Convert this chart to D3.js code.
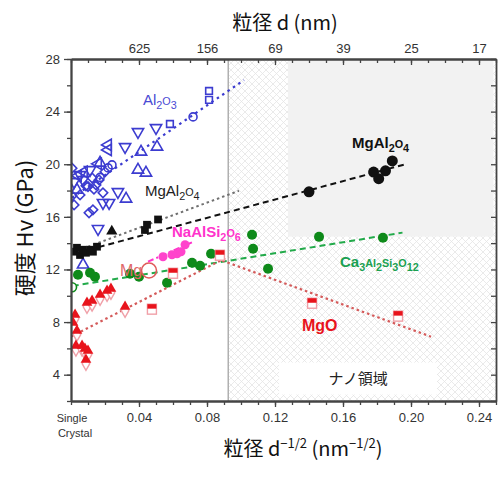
<!DOCTYPE html>
<html><head><meta charset="utf-8">
<script src="https://cdn.jsdelivr.net/npm/d3@7"></script>
<style>body{margin:0;background:#fff}</style></head>
<body><svg id="c" width="500" height="477"></svg>
<script>
// ---------- data ----------
const xTickVals=[0.04,0.08,0.12,0.16,0.20,0.24];
const xTickLabels=["0.04","0.08","0.12","0.16","0.20","0.24"];
const topTickLabels=["625","156","69","39","25","17"];
const yTickVals=[4,8,12,16,20,24,28];

const al2o3X=[0.0812,0.0812,0.0582,0.0718,0.0218,0.0241,0.0394,0.05,0.0318,0.0276,0.0159,0.0188,0.0224,0.0053,0.0112,0.0018,0.0071,0.0412,0.0506,0.0394,0.0441,0.0324,0.0171,0.0035,0.0218,0.0218,0.0159,0.0076,0.0041,0.0129,0.0106,0.0188,0.0147,0.0124,0.0088,0.0165,0.02,0.0053,0.0006,0.0018,0.0171,0.0006,0.0100,0.0135];
const al2o3Y=[25.57,24.89,23.06,23.6,19.72,19.95,22.46,22.76,21.32,17.9,15.09,17.07,17.07,19.19,19.57,18.66,18.81,20.94,21.32,19.57,19.34,17.37,20.1,18.05,21.47,21.09,20.03,19.42,19.12,16.53,16.31,17.83,18.43,18.96,18.36,18.81,19.42,17.67,17.6,16.91,19.0,19.7,18.3,18.1];
const al2o3Src=["sq","sq","sq","ci","ci","ci","dt","dt","dt","dt","dt","dt","dt","dt","dt","dt","dt","ut","ut","ut","ut","ut","ut","ut","lt","lt","lt","lt","lt","di","di","di","di","di","di","di","di","di","di","di","ci","di","di","di"];
const al2o3Fit=[[0.0006,17.45],[0.1018,26.4]];
const al2o3SingleX=[0.0071], al2o3SingleY=[12.36];

const mgal2o4SqX=[0.0018,0.0035,0.0053,0.007,0.0088,0.0112,0.0129,0.0153,0.0435,0.0447,0.0512];
const mgal2o4SqY=[13.35,13.65,13.1,13.5,13.27,13.5,13.35,13.73,15.0,15.4,15.8];
const mgal2o4TriX=[0.024], mgal2o4TriY=[14.9];
const mgal2o4GreyFit=[[0.01,13.73],[0.0988,17.98]];
const mgal2o4NanoX=[0.140,0.178,0.181,0.185,0.189];
const mgal2o4NanoY=[17.9,19.4,18.9,19.5,20.25];
const mgal2o4Fit=[[0.0106,13.5],[0.1976,20.03]];

const garnetX=[0.0041,0.0112,0.0141,0.0347,0.04,0.0565,0.0712,0.0759,0.0824,0.1065,0.1071,0.1159,0.1459,0.1835];
const garnetY=[11.6,11.75,11.45,11.68,11.45,10.99,12.51,12.28,13.19,14.64,13.57,12.05,14.48,14.41];
const garnetSingle=[0.0006,10.65];
const garnetFit=[[0.001,10.75],[0.195,14.8]];

const jadeX=[0.0541,0.0594,0.0624,0.0647,0.0671];
const jadeY=[12.97,13.12,13.19,13.35,13.88];
const jadeFit=[[0.0453,12.59],[0.0718,14.1]];

const mgoTriX=[0.0024,0.0012,0.0035,0.0029,0.0065,0.0082,0.01,0.0088,0.0094,0.0124,0.0171,0.0212,0.0235,0.0318];
const mgoTriY=[8.56,7.95,7.35,6.21,6.21,5.98,5.83,5.14,9.47,9.63,10.08,10.38,10.54,9.17];
const mgoSqX=[0.0476,0.06,0.0876,0.1418,0.1924];
const mgoSqY=[9.02,11.75,13.12,9.47,8.49];
const mgoFitUp=[[0.0,6.9],[0.0924,12.97]];
const mgoFitDown=[[0.0829,12.96],[0.2118,6.89]];

// ---------- setup ----------
const svg=d3.select("#c");
const L=71,R=496,T=59,B=401;
const x=d3.scaleLinear().domain([0,0.25]).range([L,R]);
const y=d3.scaleLinear().domain([2,28]).range([B,T]);
const font="'Liberation Sans', Arial, sans-serif";
const cjk="'Noto Sans CJK JP', sans-serif";

const defs=svg.append("defs");
const pat=defs.append("pattern").attr("id","hatch").attr("patternUnits","userSpaceOnUse").attr("width",7).attr("height",7);
pat.append("rect").attr("width",7).attr("height",7).attr("fill","#fff");
pat.append("path").attr("d","M0,0 L7,7 M-1,6 L1,8 M6,-1 L8,1").attr("stroke","#e4e4e4").attr("stroke-width",0.8);
pat.append("path").attr("d","M7,0 L0,7 M-1,1 L1,-1 M6,8 L8,6").attr("stroke","#e4e4e4").attr("stroke-width",0.8);
defs.append("clipPath").attr("id","clip").append("rect").attr("x",L).attr("y",T).attr("width",R-L).attr("height",B-T);

// nano region
svg.append("rect").attr("x",x(0.0925)).attr("y",T).attr("width",R-x(0.0925)).attr("height",B-T).attr("fill","url(#hatch)");
svg.append("rect").attr("x",x(0.1276)).attr("y",y(28)).attr("width",x(0.2485)-x(0.1276)).attr("height",y(14.5)-y(28)).attr("fill","#f2f2f2");
svg.append("line").attr("x1",x(0.0925)).attr("x2",x(0.0925)).attr("y1",T).attr("y2",B).attr("stroke","#b0b0b0").attr("stroke-width",1.5);
svg.append("rect").attr("x",x(0.1224)).attr("y",y(4.92)).attr("width",x(0.2153)-x(0.1224)).attr("height",y(2.49)-y(4.92)).attr("fill","#fff");
svg.append("text").attr("x",(x(0.1224)+x(0.2153))/2).attr("y",y(3.7)+5).attr("text-anchor","middle").attr("font-family",cjk).attr("font-size",15).attr("fill","#222").text("ナノ領域");

const g=svg.append("g").attr("clip-path","url(#clip)");
const line=d3.line().x(d=>x(d[0])).y(d=>y(d[1]));
function fit(p,col,dash,w){g.append("path").attr("d",line(p)).attr("stroke",col).attr("stroke-width",w||2).attr("fill","none").attr("stroke-dasharray",dash);}

fit(al2o3Fit,"#3c3cd0","2.5,4",2.2);
fit(mgal2o4GreyFit,"#707070","2.5,3",2);
fit(mgal2o4Fit,"#111","6,4",2);
fit(garnetFit,"#22aa4a","6,4",2);
fit(jadeFit,"#ff33cc","6,3,2,3",2);
fit(mgoFitUp,"#d45a5a","2.5,3",2.2);
fit(mgoFitDown,"#d45a5a","2.5,3",2.2);

// symbols
const sym=(t,s)=>d3.symbol().type(t).size(s)();
const blue="#3c3cd0";
const rot={sq:0,ci:0,dt:180,ut:0,lt:-90,di:45};
const typ={sq:d3.symbolSquare,ci:d3.symbolCircle,dt:d3.symbolTriangle,ut:d3.symbolTriangle,lt:d3.symbolTriangle,di:d3.symbolSquare};
g.selectAll(".al").data(al2o3X.map((v,i)=>[v,al2o3Y[i],al2o3Src[i]])).enter().append("path")
 .attr("d",d=>sym(typ[d[2]],d[2]==="ci"?50:(d[2]==="sq"||d[2]==="di"?45:55)))
 .attr("transform",d=>`translate(${x(d[0])},${y(d[1])}) rotate(${rot[d[2]]})`)
 .attr("fill","none").attr("stroke",blue).attr("stroke-width",1.6);
g.selectAll(".als").data(al2o3SingleX.map((v,i)=>[v,al2o3SingleY[i]])).enter().append("path")
 .attr("d",sym(d3.symbolTriangle,55)).attr("transform",d=>`translate(${x(d[0])},${y(d[1])})`)
 .attr("fill","none").attr("stroke",blue).attr("stroke-width",1.6);

// MgAl2O4 micro
g.selectAll(".bs").data(mgal2o4SqX.map((v,i)=>[v,mgal2o4SqY[i]])).enter().append("path")
 .attr("d",sym(d3.symbolSquare,60)).attr("transform",d=>`translate(${x(d[0])},${y(d[1])})`).attr("fill","#111");
g.selectAll(".bt").data(mgal2o4TriX.map((v,i)=>[v,mgal2o4TriY[i]])).enter().append("path")
 .attr("d",sym(d3.symbolTriangle,55)).attr("transform",d=>`translate(${x(d[0])},${y(d[1])})`).attr("fill","#111");
g.selectAll(".bc").data(mgal2o4NanoX.map((v,i)=>[v,mgal2o4NanoY[i]])).enter().append("circle")
 .attr("cx",d=>x(d[0])).attr("cy",d=>y(d[1])).attr("r",5.5).attr("fill","#111");

// garnet
g.selectAll(".gc").data(garnetX.map((v,i)=>[v,garnetY[i]])).enter().append("circle")
 .attr("cx",d=>x(d[0])).attr("cy",d=>y(d[1])).attr("r",5).attr("fill","#0e8a1a");
g.append("circle").attr("cx",x(garnetSingle[0])).attr("cy",y(garnetSingle[1])).attr("r",4.5).attr("fill","#fff").attr("stroke","#0e8a1a").attr("stroke-width",1.6);

// jadeite
g.selectAll(".jc").data(jadeX.map((v,i)=>[v,jadeY[i]])).enter().append("circle")
 .attr("cx",d=>x(d[0])).attr("cy",d=>y(d[1])).attr("r",4.5).attr("fill","#ff44cc");

// MgO
const red="#e8141c", pink="#f0a0a8";
const mgoT=mgoTriX.map((v,i)=>[v,mgoTriY[i]]);
g.selectAll(".mtp").data(mgoT).enter().append("path").attr("d",sym(d3.symbolDiamond,50))
 .attr("transform",d=>`translate(${x(d[0])},${y(d[1])+4})`).attr("fill","#fff").attr("stroke",pink).attr("stroke-width",1.4);
g.selectAll(".mt").data(mgoT).enter().append("path").attr("d",sym(d3.symbolTriangle,50))
 .attr("transform",d=>`translate(${x(d[0])},${y(d[1])})`).attr("fill",red);
const mgoS=mgoSqX.map((v,i)=>[v,mgoSqY[i]]);
g.selectAll(".msp").data(mgoS).enter().append("rect").attr("x",d=>x(d[0])-4.5).attr("y",d=>y(d[1])-4.5).attr("width",9).attr("height",10)
 .attr("fill","#fff").attr("stroke",pink).attr("stroke-width",1.4);
g.selectAll(".ms").data(mgoS).enter().append("rect").attr("x",d=>x(d[0])-4.5).attr("y",d=>y(d[1])-4.5).attr("width",9).attr("height",4.5).attr("fill",red);

// in-plot labels
function lab(tx,ty,parts,col,size,weight,fam){
  const t=svg.append("text").attr("x",tx).attr("y",ty).attr("fill",col).attr("font-size",size).attr("font-weight",weight||"normal").attr("font-family",fam||font);
  parts.forEach(p=>{const s=t.append("tspan").text(p[0]); if(p[1]) s.attr("font-size",size*0.72).attr("dy",p[1]);});
}
lab(143,105,[["Al"],["2",4],["O",-4],["3",4]],"#4a4ad4",15,"normal");
lab(145,196,[["MgAl"],["2",4],["O",-4],["4",4]],"#222",15,"normal");
lab(352,148,[["MgAl"],["2",4],["O",-4],["4",4]],"#111",15,"bold");
lab(172,237,[["NaAlSi"],["2",4],["O",-4],["6",4]],"#ff33cc",15,"bold");
lab(340,267,[["Ca"],["3",4],["Al",-4],["2",4],["Si",-4],["3",4],["O",-4],["12",4]],"#1aa050",15,"bold");
lab(302,331,[["MgO"]],red,16,"bold");
svg.append("text").attr("x",120).attr("y",276).attr("font-family",font).attr("font-size",16).attr("fill","#e06a6a").text("Mg");
svg.append("circle").attr("cx",149).attr("cy",270.5).attr("r",7.5).attr("fill","none").attr("stroke","#e05a5a").attr("stroke-width",1.6);

// ---------- axes ----------
const ax="#444";
const minorX=d3.range(0,0.2501,0.01);
const minorY=d3.range(2,28.01,2);
const bottom=svg.append("g").attr("transform",`translate(0,${B})`)
 .call(d3.axisBottom(x).tickValues(minorX).tickFormat("").tickSize(4).tickSizeOuter(0));
const bottom2=svg.append("g").attr("transform",`translate(0,${B})`)
 .call(d3.axisBottom(x).tickValues(xTickVals).tickFormat((d,i)=>xTickLabels[i]).tickSize(6).tickSizeOuter(0).tickPadding(6));
const top1=svg.append("g").attr("transform",`translate(0,${T})`)
 .call(d3.axisTop(x).tickValues(minorX).tickFormat("").tickSize(-4).tickSizeOuter(0));
const top2=svg.append("g").attr("transform",`translate(0,${T})`)
 .call(d3.axisTop(x).tickValues(xTickVals).tickFormat((d,i)=>topTickLabels[i]).tickSize(-6).tickSizeOuter(0).tickPadding(6));
const left1=svg.append("g").attr("transform",`translate(${L},0)`)
 .call(d3.axisLeft(y).tickValues(minorY).tickFormat("").tickSize(4).tickSizeOuter(0));
const left2=svg.append("g").attr("transform",`translate(${L},0)`)
 .call(d3.axisLeft(y).tickValues(yTickVals).tickFormat(d3.format("d")).tickSize(7).tickSizeOuter(0).tickPadding(4));
const right1=svg.append("g").attr("transform",`translate(${R},0)`)
 .call(d3.axisRight(y).tickValues(minorY).tickFormat("").tickSize(-5).tickSizeOuter(0));
[bottom,bottom2,top1,top2,left1,left2,right1].forEach(a=>{
  a.selectAll("path").attr("stroke",ax).attr("stroke-width",1.8);
  a.selectAll("line").attr("stroke",ax).attr("stroke-width",1.3);
  a.selectAll("text").attr("font-family",font).attr("font-size",13).attr("fill","#333");
});

svg.append("text").attr("x",72).attr("y",422).attr("text-anchor","middle").attr("font-family",font).attr("font-size",11).attr("fill","#333").text("Single");
svg.append("text").attr("x",75).attr("y",437).attr("text-anchor","middle").attr("font-family",font).attr("font-size",11).attr("fill","#333").text("Crystal");

// titles
svg.append("text").attr("x",285).attr("y",30).attr("text-anchor","middle").attr("font-family",cjk).attr("font-size",20).attr("fill","#111").text("粒径 d (nm)");
const bt=svg.append("text").attr("x",303).attr("y",456).attr("text-anchor","middle").attr("font-family",cjk).attr("font-size",20).attr("fill","#111");
bt.append("tspan").text("粒径 d");
bt.append("tspan").attr("font-size",13).attr("dy",-8).text("−1/2");
bt.append("tspan").attr("dy",8).text(" (nm");
bt.append("tspan").attr("font-size",13).attr("dy",-8).text("−1/2");
bt.append("tspan").attr("dy",8).text(")");
svg.append("text").attr("transform","translate(33,228) rotate(-90)").attr("text-anchor","middle").attr("font-family",cjk).attr("font-size",22).attr("fill","#111").text("硬度 Hv (GPa)");
</script></body></html>
